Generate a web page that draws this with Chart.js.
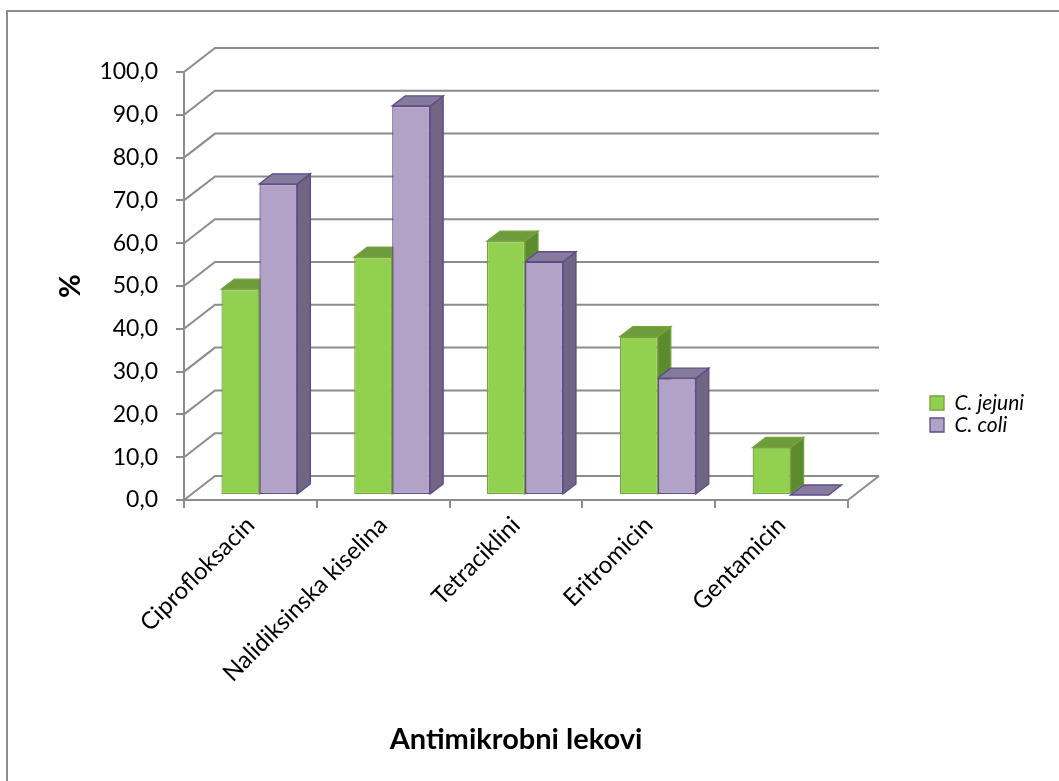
<!DOCTYPE html>
<html>
<head>
<meta charset="utf-8">
<script src="https://cdn.jsdelivr.net/npm/chart.js@4/dist/chart.umd.min.js"></script>
<style>
  html, body { margin: 0; padding: 0; background: #ffffff; }
  #wrap { width: 1059px; height: 781px; position: relative; }
</style>
</head>
<body>
<div id="wrap"><canvas id="chart" width="1059" height="781"></canvas></div>
<script>
// ---- data ----
const categories = ['Ciprofloksacin', 'Nalidiksinska kiselina', 'Tetraciklini', 'Eritromicin', 'Gentamicin'];
const seriesNames = ['C. jejuni', 'C. coli'];
const jejuniValues = [48.1, 55.6, 59.3, 37.0, 11.1];
const coliValues = [72.7, 90.9, 54.5, 27.3, 0.0];
const yTickValues = [0, 10, 20, 30, 40, 50, 60, 70, 80, 90, 100];
const yAxisTitle = '%';
const xAxisTitle = 'Antimikrobni lekovi';

// ---- look ----
const FONT = 'Lato, "Open Sans", "Liberation Sans", sans-serif';
const GRID = '#8c8c8c';
const palettes = [
  { front: '#92d050', border: '#76a33c', top: '#6e9b3b', side: '#5c8a2e' },
  { front: '#b3a2c7', border: '#5e4b8a', top: '#877b9d', side: '#706582' }
];
const WALL = { dx: 31, dy: -24 };       // back wall offset from the front axis plane
const ROW = { dx: 9, dy: -5 };          // bar row sits a little inside the floor
const BAR_DEPTH = { dx: 13, dy: -10 };  // visible depth of each column
const LEGEND_AT = { x: 929, y: 403 };   // left edge / first row centre of the key

function poly(ctx, pts, fill, stroke) {
  ctx.beginPath();
  ctx.moveTo(pts[0][0], pts[0][1]);
  for (let i = 1; i < pts.length; i++) ctx.lineTo(pts[i][0], pts[i][1]);
  ctx.closePath();
  ctx.fillStyle = fill;
  ctx.fill();
  ctx.strokeStyle = stroke;
  ctx.lineWidth = 1.3;
  ctx.stroke();
}

// Walls, floor and the depth faces of the columns
const depthPlugin = {
  id: 'depth',
  afterLayout(chart) {
    // place the key to the right of the back wall
    const L = chart.legend;
    const fs = chart.options.plugins.legend.labels.font.size;
    const pad = chart.options.plugins.legend.labels.padding;
    L.left = LEGEND_AT.x; L.width = 128; L.right = L.left + L.width;
    L.top = LEGEND_AT.y - fs / 2 - pad; L.height = 90; L.bottom = L.top + L.height;
  },
  beforeDraw(chart) {
    const ctx = chart.ctx;
    ctx.save();
    ctx.strokeStyle = GRID;
    ctx.lineWidth = 2;
    ctx.beginPath();
    ctx.moveTo(7, chart.height);
    ctx.lineTo(7, 11);
    ctx.lineTo(chart.width, 11);
    ctx.stroke();
    ctx.restore();
  },
  beforeDatasetsDraw(chart) {
    const { ctx, chartArea: a, scales: { y } } = chart;
    ctx.save();
    ctx.strokeStyle = GRID;
    ctx.lineWidth = 2;
    y.ticks.forEach(t => {
      const py = y.getPixelForValue(t.value);
      ctx.beginPath();
      ctx.moveTo(a.left, py);
      ctx.lineTo(a.left + WALL.dx, py + WALL.dy);
      ctx.lineTo(a.right + WALL.dx, py + WALL.dy);
      ctx.stroke();
    });
    const p0 = y.getPixelForValue(0);
    ctx.beginPath();
    ctx.moveTo(a.right, p0);
    ctx.lineTo(a.right + WALL.dx, p0 + WALL.dy);
    ctx.stroke();
    ctx.restore();

    // columns: side and top faces, then the library draws the fronts on top
    ctx.save();
    ctx.translate(ROW.dx, ROW.dy);
    const n = chart.data.labels.length;
    for (let i = 0; i < n; i++) {
      chart.data.datasets.forEach((ds, d) => {
        const el = chart.getDatasetMeta(d).data[i];
        const { x, y: top, base, width } = el.getProps(['x', 'y', 'base', 'width'], true);
        const l = x - width / 2, r = x + width / 2;
        const c = palettes[d];
        if (base - top > 0.5) {
          poly(ctx, [[r, top], [r + BAR_DEPTH.dx, top + BAR_DEPTH.dy],
                     [r + BAR_DEPTH.dx, base + BAR_DEPTH.dy], [r, base]], c.side, c.border);
        }
        poly(ctx, [[l, top], [r, top], [r + BAR_DEPTH.dx, top + BAR_DEPTH.dy],
                   [l + BAR_DEPTH.dx, top + BAR_DEPTH.dy]], c.top, c.border);
      });
    }
  },
  afterDatasetsDraw(chart) {
    chart.ctx.restore();
  }
};

new Chart(document.getElementById('chart'), {
  type: 'bar',
  data: {
    labels: categories,
    datasets: [
      { label: seriesNames[0], data: jejuniValues,
        backgroundColor: palettes[0].front, borderColor: palettes[0].border,
        borderWidth: 1.3, borderSkipped: false, clip: false },
      { label: seriesNames[1], data: coliValues,
        backgroundColor: palettes[1].front, borderColor: palettes[1].border,
        borderWidth: 1.3, borderSkipped: false, clip: false }
    ]
  },
  options: {
    responsive: false,
    animation: false,
    devicePixelRatio: 1,
    categoryPercentage: 0.572,
    barPercentage: 1.0,
    layout: { padding: { left: 20, top: 72, right: 151, bottom: 22 } },
    plugins: {
      tooltip: { enabled: false },
      legend: {
        position: 'right',
        align: 'start',
        maxWidth: 60,
        labels: {
          boxWidth: 14, boxHeight: 14, padding: 1,
          color: '#000000',
          font: { family: FONT, size: 21, style: 'italic' }
        }
      }
    },
    scales: {
      x: {
        offset: true,
        grid: { offset: true, drawOnChartArea: false, drawTicks: true, tickLength: 8, color: GRID, lineWidth: 2 },
        border: { display: true, color: GRID, width: 2 },
        ticks: { minRotation: 45, maxRotation: 45, padding: 3, color: '#000000',
                 font: { family: FONT, size: 24 } },
        title: { display: true, text: xAxisTitle, color: '#000000',
                 font: { family: FONT, size: 29, weight: 'bold' }, padding: { top: 0, bottom: 2 } },
        afterFit(scale) { scale.height = 259; }
      },
      y: {
        min: 0, max: 100,
        afterBuildTicks(scale) { scale.ticks = yTickValues.map(v => ({ value: v })); },
        grid: { drawOnChartArea: false, drawTicks: true, tickLength: 8, color: GRID, lineWidth: 2 },
        border: { display: true, color: GRID, width: 2 },
        ticks: { padding: 18, color: '#000000', font: { family: FONT, size: 23 },
                 callback: v => v.toFixed(1).replace('.', ',') },
        title: { display: true, text: yAxisTitle, color: '#000000',
                 font: { family: FONT, size: 29, weight: 'bold' }, padding: { top: 33, bottom: 0 } },
        afterFit(scale) { scale.width = 164; }
      }
    }
  },
  plugins: [depthPlugin]
});
</script>
</body>
</html>
